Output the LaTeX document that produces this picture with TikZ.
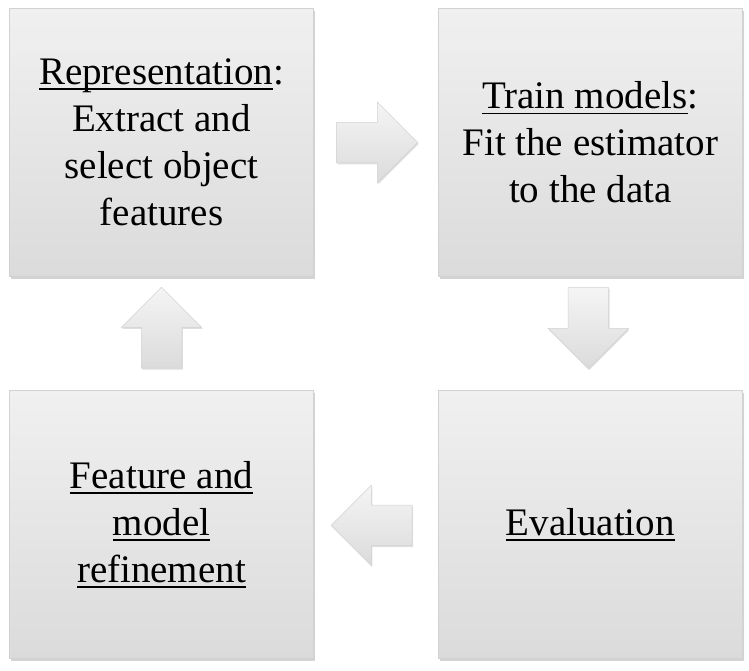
\documentclass[tikz,border=0pt]{standalone}
\usepackage{fontspec}
\setmainfont{Liberation Serif}
\usetikzlibrary{positioning,calc,shapes.arrows,shadows}
\definecolor{boxtop}{HTML}{F0F0F0}
\definecolor{boxbot}{HTML}{DBDBDB}
\definecolor{boxline}{HTML}{D2D2D2}
% underline sitting just under the baseline
\newcommand{\uln}[1]{\setbox0\hbox{#1}\rlap{\raisebox{-5.5pt}{\rule{\wd0}{1.8pt}}}\box0}
\tikzset{x=1pt,y=1pt,
    stepbox/.style={rectangle, draw=boxline, line width=0.8pt,
        top color=boxtop, bottom color=boxbot,
        minimum width=304pt, minimum height=268pt,
        align=center, inner sep=0pt,
        font=\fontsize{39}{47}\selectfont,
        drop shadow={shadow xshift=1.5pt, shadow yshift=-2.5pt, opacity=0.35}},
    flowarrow/.style={single arrow, draw=boxline, line width=0.5pt,
        top color=boxtop!70!white, bottom color=boxbot,
        inner xsep=0pt, inner ysep=20pt, minimum height=81pt,
        single arrow head extend=20pt, anchor=tail,
        drop shadow={shadow xshift=1pt, shadow yshift=-1.5pt, opacity=0.25}},
    }
\begin{document}
\begin{tikzpicture}
	\useasboundingbox (0,0) rectangle (749,-670);
	% the four steps
	\node[stepbox] (rep) at (161.5,-142.5)
		{\uln{Representation}:\\Extract and\\select object\\features};
	\node[stepbox, right=124pt of rep] (train)
		{\uln{Train models}:\\Fit the estimator\\to the data};
	\node[stepbox, below=113pt of train] (eval) {\uln{Evaluation}};
	\node[stepbox, below=113pt of rep] (refine)
		{\uln{Feature and}\\\uln{model}\\\uln{refinement}};
	% block arrows between them
	\node[flowarrow] (a1) at ($(rep.east)+(22.5,0)$) {};
	\node[flowarrow, rotate=-90] (a2) at ($(train.south)+(-2,-10.5)$) {};
	\node[flowarrow, rotate=180] (a3) at ($(eval.west)+(-25.5,-1)$) {};
	\node[flowarrow, rotate=90] (a4) at ($(refine.north)+(0,21.5)$) {};
\end{tikzpicture}
\end{document}
